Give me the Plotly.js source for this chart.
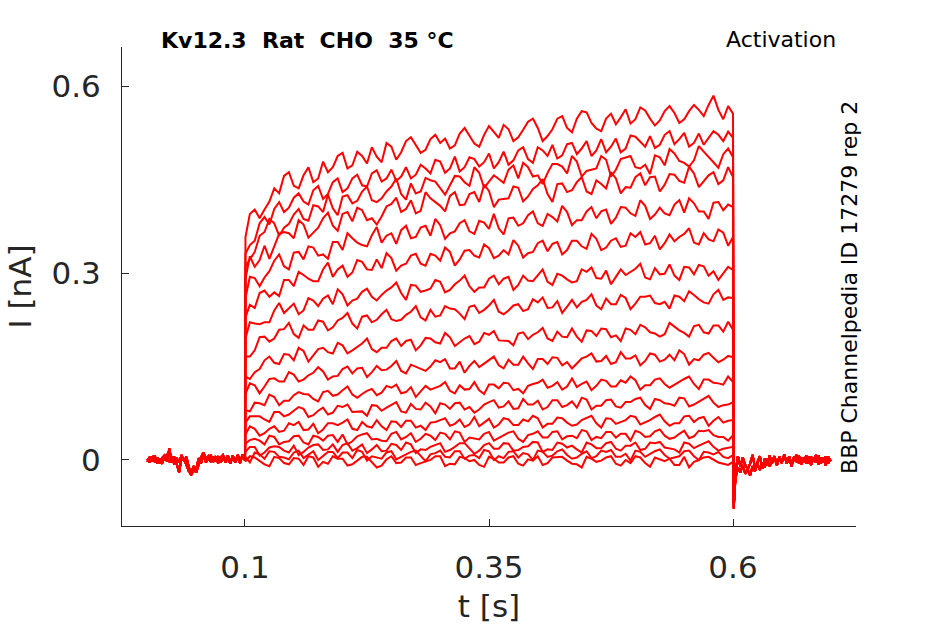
<!DOCTYPE html>
<html>
<head>
<meta charset="utf-8">
<script src="https://cdn.plot.ly/plotly-3.0.1.min.js"></script>
<style>
  html, body { margin: 0; padding: 0; background: #fff; }
  #plot { width: 945px; height: 624px; }
</style>
</head>
<body>
<div id="plot"></div>
<script>
// Sample clock (s): holding before the step, the step itself, holding after
const tPreStart = 0, tPreStep = 0.0025, tPreCount = 41;
const tPulseOnset = 0.1005, tPulseStart = 0.105, tPulseStep = 0.005, tPulseCount = 100;
const tPostSpike = 0.6008, tPostStart = 0.6025, tPostStep = 0.0025, tPostCount = 40;

// Current, in pA
const basePreA = [2, -4, 6, -3, 4, -5, 3, 7, -2, 18, -4, 5, -6, -20, 4, 1, -8, -18, -24, -15,
  -20, -6, 4, 12, 2, 6, -3, 5, -2, 6, -4, 4, 1, 7, -3, 5, -4, 8, 0, 6, 2];
const basePreB = [-3, 5, -2, 7, -5, 2, -6, 4, 9, -3, 6, -7, 3, -4, 8, -2, 5, -12, -20, -10,
  -16, 3, -5, 7, -4, 3, 8, -3, 6, -5, 4, 8, -4, 3, -6, 7, -2, 4, -5, 9, -1];
const basePostA = [-78, -20, 6, -10, 4, -8, -15, -6, 8, -12, -4, 6, -14, 2, -8, 7, -5, 4, -9, 6,
  -4, 8, -6, 3, -10, 5, -3, 7, -7, 4, -5, 6, -8, 3, -4, 7, -6, 4, -9, 5, -2];
const basePostB = [-70, -30, -12, -20, -8, -22, -15, -25, -10, -18, -6, -16, -4, -12, 2, -10, -3, 6, -8, 3,
  -5, 9, -4, 6, -7, 2, 8, -5, 4, -3, 7, -6, 5, -2, 8, -7, 3, -4, 6, -5, 1];

// One pair of arrays per voltage step: samples at 0.1005, 0.11 ... 0.60 s and the half-step samples 0.105 ... 0.595 s
const sweep01 = [358, 402, 402, 436, 456, 440, 457, 446, 479, 470, 493, 473, 488, 502, 478, 503, 494, 518, 493, 515, 509, 500, 524, 520, 503, 536, 517, 531, 518, 543, 533, 520, 548, 533, 548, 558, 532, 548, 539, 563, 547, 561, 537, 560, 557, 547, 570, 552, 585, 547, 556];
const sweep01h = [395, 388, 415, 428, 462, 436, 470, 452, 462, 488, 468, 495, 476, 487, 509, 482, 512, 505, 498, 522, 516, 505, 533, 508, 522, 527, 538, 512, 530, 548, 512, 531, 552, 526, 560, 541, 528, 556, 550, 540, 566, 548, 545, 568, 541, 560, 562, 570, 562, 568];
const sweep02 = [331, 352, 390, 403, 398, 421, 415, 433, 419, 446, 430, 452, 441, 460, 447, 466, 455, 452, 474, 460, 479, 468, 463, 486, 471, 492, 478, 474, 497, 483, 502, 488, 484, 507, 491, 512, 497, 494, 516, 500, 519, 503, 501, 522, 507, 525, 509, 506, 528, 512, 517];
const sweep02h = [345, 380, 378, 414, 405, 428, 410, 440, 427, 452, 436, 458, 439, 465, 452, 448, 470, 458, 468, 482, 461, 487, 470, 483, 478, 468, 495, 481, 502, 477, 497, 506, 489, 509, 500, 488, 515, 503, 494, 521, 511, 520, 506, 528, 515, 503, 524, 517, 522, 527];
const sweep03 = [311, 334, 366, 380, 373, 394, 387, 409, 398, 404, 423, 412, 431, 417, 420, 439, 427, 444, 431, 449, 437, 441, 455, 440, 461, 447, 451, 466, 452, 470, 457, 461, 475, 460, 479, 464, 468, 482, 466, 485, 470, 474, 489, 473, 492, 477, 481, 495, 478, 491, 486];
const sweep03h = [322, 360, 387, 360, 379, 403, 384, 407, 426, 393, 425, 416, 439, 414, 431, 452, 418, 428, 453, 447, 426, 456, 446, 470, 437, 457, 445, 473, 477, 455, 443, 475, 471, 488, 455, 466, 488, 455, 483, 488, 468, 459, 486, 499, 480, 471, 504, 487, 469, 500];
const sweep04 = [291, 310, 344, 343, 366, 356, 378, 365, 388, 376, 395, 383, 401, 388, 391, 411, 398, 417, 400, 420, 408, 424, 409, 427, 414, 432, 418, 420, 437, 423, 441, 427, 443, 430, 446, 431, 449, 436, 452, 438, 454, 441, 455, 442, 458, 445, 460, 447, 462, 449, 454];
const sweep04h = [327, 321, 323, 363, 364, 385, 357, 373, 397, 368, 398, 405, 385, 378, 407, 421, 403, 396, 430, 414, 399, 430, 410, 430, 442, 406, 419, 439, 415, 435, 451, 414, 444, 433, 454, 427, 443, 462, 428, 437, 460, 454, 431, 459, 448, 471, 438, 457, 443, 470];
const sweep05 = [260, 292, 293, 320, 311, 333, 322, 341, 330, 350, 337, 356, 345, 361, 349, 364, 369, 356, 373, 360, 377, 364, 380, 367, 384, 371, 372, 388, 376, 393, 380, 395, 383, 398, 385, 399, 388, 402, 389, 405, 392, 408, 394, 396, 410, 397, 412, 399, 413, 401, 406];
const sweep05h = [294, 279, 303, 330, 306, 334, 343, 328, 323, 350, 364, 349, 343, 374, 360, 347, 376, 358, 376, 387, 355, 367, 385, 363, 381, 395, 362, 389, 380, 399, 376, 390, 408, 377, 385, 406, 399, 379, 406, 396, 417, 387, 405, 393, 417, 420, 399, 387, 414, 410];
const sweep06 = [229, 244, 272, 269, 289, 279, 297, 287, 306, 294, 312, 301, 318, 305, 308, 324, 312, 328, 315, 331, 320, 334, 322, 337, 325, 340, 328, 330, 344, 332, 348, 335, 350, 337, 352, 339, 355, 341, 356, 344, 358, 346, 360, 348, 351, 363, 349, 364, 351, 365, 358];
const sweep06h = [249, 268, 262, 263, 289, 302, 291, 287, 317, 306, 294, 321, 306, 322, 332, 304, 315, 331, 312, 328, 341, 312, 336, 328, 346, 324, 337, 353, 325, 334, 352, 347, 330, 352, 343, 363, 337, 352, 342, 364, 366, 348, 338, 362, 358, 372, 346, 354, 370, 344];
const sweep07 = [195, 219, 221, 240, 236, 251, 240, 256, 259, 250, 266, 256, 270, 262, 265, 277, 268, 281, 270, 275, 286, 273, 288, 279, 277, 291, 282, 294, 281, 288, 297, 286, 299, 290, 287, 302, 292, 304, 294, 297, 307, 293, 308, 299, 296, 310, 298, 311, 303, 300, 305];
const sweep07h = [221, 218, 221, 252, 244, 234, 260, 247, 264, 274, 248, 259, 275, 256, 272, 285, 257, 280, 272, 289, 269, 282, 296, 270, 277, 296, 291, 273, 296, 287, 306, 281, 296, 285, 306, 309, 291, 282, 306, 302, 315, 290, 298, 314, 289, 309, 313, 296, 289, 310];
const sweep08 = [166, 176, 198, 195, 210, 202, 216, 209, 222, 213, 228, 219, 230, 221, 234, 226, 225, 238, 229, 241, 232, 243, 235, 246, 236, 248, 238, 240, 250, 242, 253, 244, 255, 246, 245, 257, 248, 259, 250, 260, 251, 262, 252, 254, 264, 255, 265, 253, 266, 257, 260];
const sweep08h = [166, 197, 190, 209, 220, 196, 209, 224, 208, 224, 236, 211, 232, 225, 241, 223, 233, 247, 224, 230, 247, 242, 226, 248, 241, 257, 234, 248, 239, 258, 261, 245, 236, 257, 254, 266, 242, 250, 265, 242, 262, 264, 250, 243, 262, 271, 258, 251, 273, 261];
const sweep09 = [134, 141, 160, 156, 170, 160, 175, 168, 180, 171, 184, 176, 187, 178, 180, 191, 183, 193, 184, 195, 187, 197, 189, 199, 190, 201, 192, 191, 203, 194, 205, 195, 206, 197, 198, 208, 199, 210, 200, 211, 202, 213, 203, 202, 214, 204, 215, 205, 216, 206, 209];
const sweep09h = [130, 146, 166, 154, 169, 180, 158, 178, 173, 188, 171, 182, 195, 173, 180, 195, 191, 176, 196, 189, 204, 183, 195, 186, 204, 207, 192, 184, 205, 201, 212, 191, 198, 211, 190, 207, 211, 197, 191, 209, 217, 205, 198, 220, 208, 198, 217, 203, 216, 222];
const sweep10 = [106, 120, 118, 131, 126, 137, 129, 140, 142, 134, 146, 139, 148, 141, 144, 151, 143, 153, 146, 150, 157, 147, 158, 151, 149, 160, 152, 161, 153, 155, 162, 154, 164, 157, 155, 166, 158, 167, 157, 163, 168, 159, 169, 161, 160, 170, 162, 169, 164, 161, 165];
const sweep10h = [123, 107, 130, 126, 141, 126, 136, 149, 129, 135, 150, 147, 133, 151, 145, 159, 139, 150, 143, 160, 162, 147, 140, 159, 155, 166, 147, 153, 166, 146, 162, 165, 152, 147, 163, 171, 159, 154, 173, 163, 152, 171, 158, 169, 176, 153, 160, 172, 157, 167];
const sweep11 = [80, 92, 88, 101, 95, 104, 106, 98, 109, 103, 112, 105, 106, 114, 108, 116, 107, 117, 110, 113, 119, 111, 120, 114, 112, 121, 115, 123, 114, 119, 124, 116, 125, 118, 117, 126, 119, 127, 118, 124, 128, 120, 129, 122, 121, 130, 122, 129, 124, 121, 125];
const sweep11h = [78, 91, 105, 88, 95, 109, 105, 94, 111, 105, 118, 100, 111, 104, 119, 121, 109, 101, 119, 116, 125, 107, 113, 125, 106, 121, 124, 112, 107, 122, 129, 119, 113, 131, 122, 112, 129, 118, 128, 134, 113, 120, 131, 116, 126, 134, 114, 129, 123, 134];
const sweep12 = [60, 70, 65, 77, 70, 79, 82, 72, 84, 76, 85, 77, 78, 88, 79, 89, 78, 90, 81, 86, 91, 82, 92, 85, 81, 93, 84, 94, 83, 89, 95, 85, 96, 88, 84, 97, 87, 96, 86, 93, 98, 88, 98, 91, 87, 99, 89, 98, 92, 88, 93];
const sweep12h = [70, 70, 61, 77, 73, 85, 69, 79, 73, 87, 89, 77, 71, 87, 84, 93, 76, 82, 92, 75, 89, 91, 81, 76, 89, 96, 86, 82, 98, 89, 81, 96, 85, 94, 100, 81, 87, 97, 84, 93, 100, 82, 96, 90, 100, 86, 94, 103, 85, 89];
const sweep13 = [41, 50, 43, 54, 47, 56, 48, 58, 49, 59, 60, 50, 61, 52, 54, 62, 53, 63, 55, 60, 64, 55, 65, 57, 54, 66, 57, 65, 56, 62, 67, 58, 68, 60, 57, 68, 59, 67, 58, 64, 69, 60, 69, 62, 59, 70, 61, 69, 63, 60, 64];
const sweep13h = [54, 39, 50, 45, 59, 61, 49, 43, 59, 56, 65, 48, 54, 64, 48, 61, 63, 52, 48, 61, 67, 58, 53, 69, 60, 52, 67, 56, 65, 71, 52, 58, 67, 55, 64, 71, 52, 66, 61, 71, 57, 64, 73, 55, 59, 71, 67, 55, 69, 63];
const sweep14 = [26, 34, 25, 37, 29, 38, 28, 39, 31, 40, 41, 30, 41, 33, 31, 42, 33, 43, 34, 39, 44, 33, 44, 36, 33, 45, 35, 44, 34, 40, 46, 36, 46, 38, 35, 46, 37, 45, 36, 42, 47, 37, 46, 39, 36, 47, 38, 46, 40, 37, 40];
const sweep14h = [32, 31, 39, 25, 30, 39, 25, 37, 39, 29, 25, 38, 43, 34, 30, 45, 37, 29, 42, 32, 42, 46, 29, 34, 42, 31, 39, 46, 29, 42, 36, 45, 33, 39, 48, 32, 35, 45, 42, 31, 44, 38, 49, 34, 42, 35, 47, 48, 37, 31];
const sweep15 = [13, 21, 12, 22, 15, 23, 13, 24, 16, 25, 24, 15, 25, 17, 14, 26, 16, 25, 17, 21, 27, 16, 27, 19, 15, 27, 18, 26, 16, 22, 28, 17, 28, 20, 17, 28, 19, 27, 18, 23, 28, 18, 27, 20, 17, 28, 19, 27, 21, 18, 21];
const sweep15h = [21, 7, 20, 21, 12, 8, 20, 25, 17, 13, 27, 19, 11, 24, 15, 24, 28, 11, 16, 24, 13, 21, 27, 10, 24, 18, 27, 15, 21, 29, 13, 16, 26, 23, 12, 25, 19, 29, 15, 23, 16, 28, 29, 18, 12, 26, 23, 30, 15, 19];
const sweep16 = [5, 12, 2, 13, 4, 12, 3, 14, 6, 13, 12, 3, 13, 6, 2, 14, 5, 13, 6, 9, 15, 4, 14, 7, 3, 14, 6, 13, 4, 9, 15, 5, 14, 8, 4, 14, 6, 13, 5, 10, 15, 5, 14, 8, 4, 14, 6, 13, 9, 5, 8];
const sweep16h = [-4, 9, 14, 5, 1, 15, 8, 0, 13, 3, 12, 16, -1, 4, 12, 1, 9, 15, -2, 11, 5, 14, 2, 8, 16, 0, 3, 14, 11, 0, 13, 7, 17, 2, 10, 3, 15, 16, 5, -1, 13, 10, 17, 2, 6, 15, 0, 12, 13, 3];
const sweep17 = [-2, 4, -7, 5, -5, 3, -8, 4, -3, 6, 2, -7, 5, -3, -9, 6, -4, 4, -5, 0, 6, -6, 5, -2, -8, 5, -4, 4, -6, 1, 6, -5, 5, -1, -7, 5, -3, 4, -6, 0, 6, -5, 4, -2, -8, 5, -3, 4, 0, -6, -3];
const sweep17h = [6, -2, -10, 3, -7, 2, 6, -11, -6, 2, -9, -1, 5, -12, 1, -5, 4, -8, -2, 6, -10, -7, 3, 0, -11, 2, -4, 6, -9, -1, -8, 4, 5, -6, -12, 2, -1, 6, -9, -5, 4, -11, 1, 2, -8, -12, 0, 5, -4, -8];

const sweeps = [
    [sweep01, sweep01h], [sweep02, sweep02h], [sweep03, sweep03h], [sweep04, sweep04h],
    [sweep05, sweep05h], [sweep06, sweep06h], [sweep07, sweep07h], [sweep08, sweep08h],
    [sweep09, sweep09h], [sweep10, sweep10h], [sweep11, sweep11h], [sweep12, sweep12h],
    [sweep13, sweep13h], [sweep14, sweep14h], [sweep15, sweep15h], [sweep16, sweep16h],
    [sweep17, sweep17h]
];

const xTickVals = [0.1, 0.35, 0.6];
const xTickText = ['0.1', '0.35', '0.6'];
const yTickVals = [0, 0.3, 0.6];
const yTickText = ['0', '0.3', '0.6'];

function clock(start, step, n) {
    const out = [];
    for (let i = 0; i < n; i++) out.push(+(start + i * step).toFixed(4));
    return out;
}

// put the half-step samples back between the whole-step ones
function merge(whole, half) {
    const out = [];
    half.forEach((v, i) => out.push(whole[i], v));
    out.push(whole[whole.length - 1]);
    return out;
}

const tPre = clock(tPreStart, tPreStep, tPreCount);
const tPulse = [tPulseOnset, ...clock(tPulseStart, tPulseStep, tPulseCount)];
const tPost = [tPostSpike, ...clock(tPostStart, tPostStep, tPostCount)];
const tAll = [...tPre, ...tPulse, ...tPost];

const traces = sweeps.map(([whole, half], i) => ({
    type: 'scatter',
    mode: 'lines',
    x: tAll,
    y: [...(i % 2 ? basePreB : basePreA), ...merge(whole, half), ...(i % 2 ? basePostB : basePostA)]
        .map(pA => pA / 1000),
    line: { color: '#ff0000', width: 2 },
    hoverinfo: 'skip'
}));

const axisFont = { family: 'DejaVu Sans, sans-serif', size: 31, color: '#262626' };
const NB = '\u00a0';

Plotly.newPlot('plot', traces, {
    width: 945,
    height: 624,
    paper_bgcolor: '#ffffff',
    plot_bgcolor: '#ffffff',
    margin: { l: 122, r: 89, t: 47, b: 98 },
    showlegend: false,
    font: axisFont,
    xaxis: {
        range: [-0.026, 0.726],
        tickvals: xTickVals,
        ticktext: xTickText,
        ticks: 'inside',
        ticklen: 7,
        tickwidth: 1,
        tickcolor: '#262626',
        showline: true,
        linecolor: '#262626',
        linewidth: 1,
        showgrid: false,
        zeroline: false,
        tickfont: axisFont,
        ticklabelstandoff: 14,
        title: { text: 't [s]', font: axisFont, standoff: 12 }
    },
    yaxis: {
        range: [-0.106, 0.663],
        tickvals: yTickVals,
        ticktext: yTickText,
        ticks: 'inside',
        ticklen: 7,
        tickwidth: 1,
        tickcolor: '#262626',
        showline: true,
        linecolor: '#262626',
        linewidth: 1,
        showgrid: false,
        zeroline: false,
        tickfont: axisFont,
        ticklabelstandoff: 14,
        title: { text: 'I [nA]', font: axisFont, standoff: 10 }
    },
    annotations: [
        {
            xref: 'paper', yref: 'paper', x: 0.0504, y: 1.0146,
            xanchor: 'left', yanchor: 'middle', showarrow: false,
            text: '<b>Kv12.3' + NB + NB + 'Rat' + NB + NB + 'CHO' + NB + NB + '35' + NB + '°C</b>',
            font: { family: 'DejaVu Sans, sans-serif', size: 22, color: '#000000' }
        },
        {
            xref: 'paper', yref: 'paper', x: 0.9755, y: 1.0167,
            xanchor: 'right', yanchor: 'middle', showarrow: false,
            text: 'Activation',
            font: { family: 'DejaVu Sans, sans-serif', size: 22, color: '#000000' }
        },
        {
            xref: 'paper', yref: 'paper', x: 0.9918, y: 0.499,
            xanchor: 'center', yanchor: 'middle', showarrow: false, textangle: -90,
            text: 'BBP Channelpedia ID 17279 rep 2',
            font: { family: 'DejaVu Sans, sans-serif', size: 22, color: '#000000' }
        }
    ]
}, { displayModeBar: false, responsive: false, staticPlot: true });
</script>
</body>
</html>
